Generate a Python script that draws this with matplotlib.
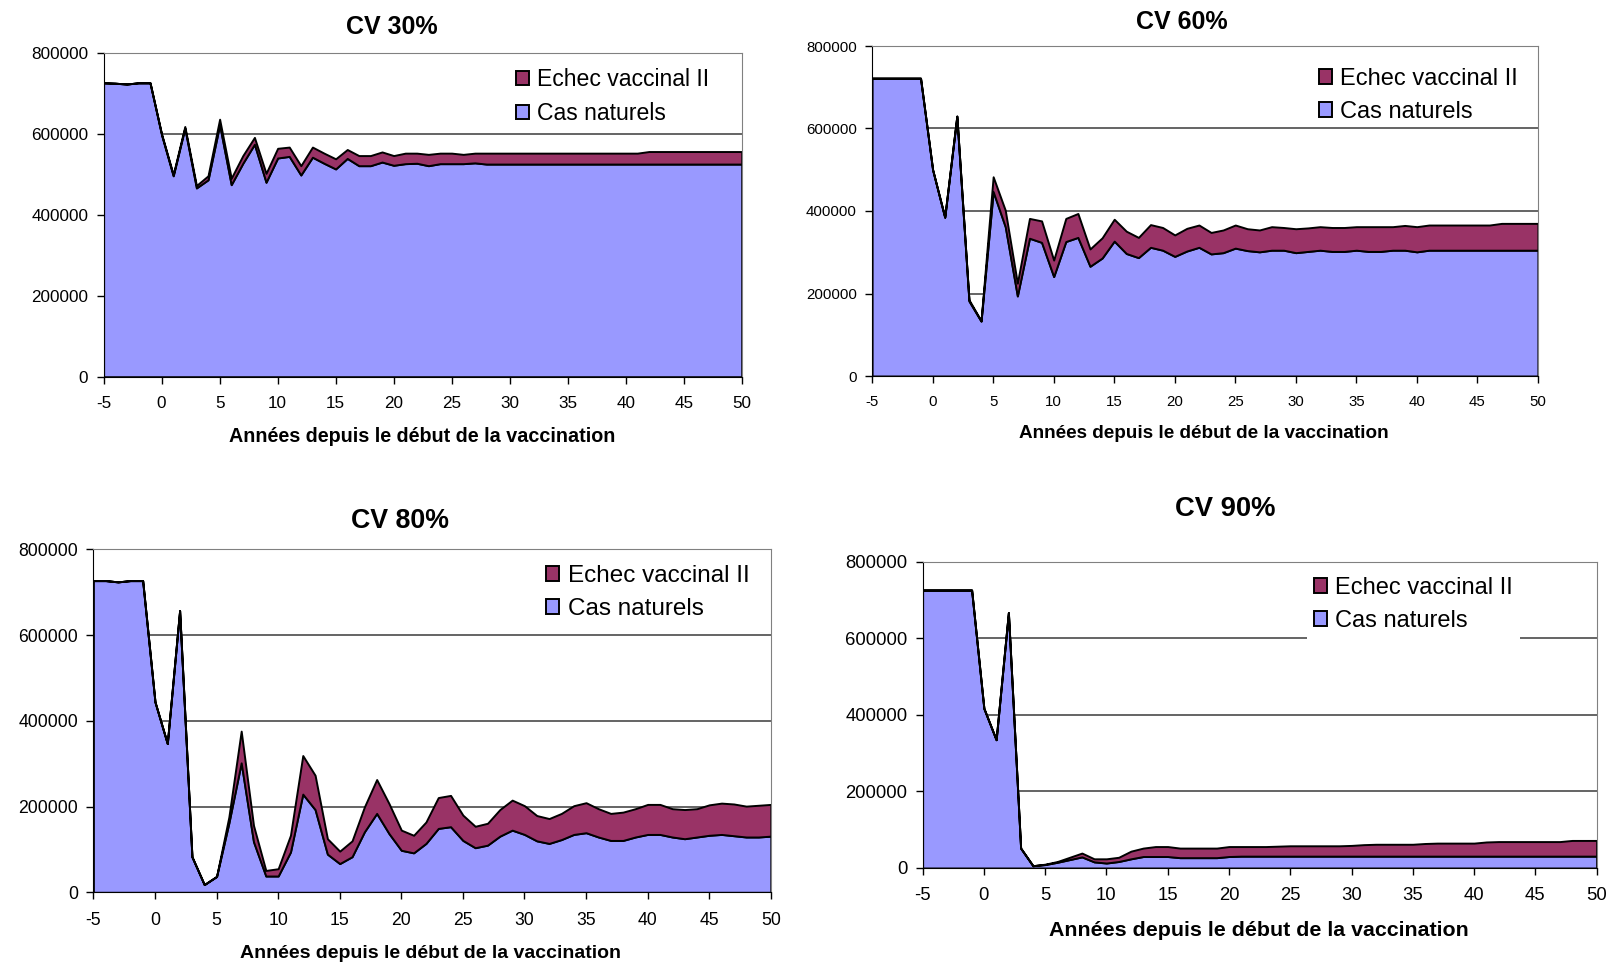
import numpy as np
import matplotlib.pyplot as plt

plt.rcParams['font.family'] = ['Liberation Sans', 'DejaVu Sans']

# années depuis le début de la vaccination
annees = np.arange(-5, 51)

# CV 30%
cas_30 = [727000, 726000, 724000, 727000, 727000, 598000, 497000, 615000, 467000, 487000,
          623000, 475000, 528000, 575000, 481000, 541000, 545000, 499000, 543000, 528000,
          514000, 540000, 522000, 522000, 531000, 523000, 527000, 528000, 522000, 527000,
          527000, 527000, 529000, 526000, 526000, 526000, 526000, 526000, 526000, 526000,
          526000, 526000, 526000, 526000, 526000, 526000, 526000, 526000, 526000, 526000,
          526000, 526000, 526000, 526000, 526000, 526000]
echec_30 = [0, 0, 0, 0, 0, 2000, 3000, 4000, 6000, 10000,
            14000, 16000, 19000, 17000, 22000, 24000, 23000, 23000, 25000, 25000,
            25000, 22000, 25000, 25000, 25000, 24000, 26000, 25000, 28000, 26000,
            26000, 23000, 24000, 27000, 27000, 27000, 27000, 27000, 27000, 27000,
            27000, 27000, 27000, 27000, 27000, 27000, 27000, 31000, 31000, 31000,
            31000, 31000, 31000, 31000, 31000, 31000]

# CV 60%
cas_60 = [722000, 722000, 722000, 722000, 722000, 500000, 385000, 630000, 182000, 133000,
          447000, 362000, 194000, 334000, 324000, 241000, 326000, 336000, 266000, 286000,
          327000, 297000, 287000, 312000, 305000, 290000, 303000, 312000, 296000, 299000,
          310000, 304000, 301000, 305000, 305000, 299000, 302000, 305000, 302000, 302000,
          305000, 302000, 302000, 305000, 305000, 301000, 305000, 305000, 305000, 305000,
          305000, 305000, 305000, 305000, 305000, 305000]
echec_60 = [0, 0, 0, 0, 0, 0, 0, 0, 3000, 1000,
            36000, 40000, 31000, 48000, 52000, 40000, 56000, 58000, 42000, 49000,
            53000, 54000, 49000, 55000, 55000, 52000, 55000, 54000, 52000, 55000,
            56000, 53000, 53000, 57000, 55000, 58000, 57000, 57000, 58000, 58000,
            57000, 60000, 60000, 57000, 60000, 61000, 61000, 61000, 61000, 61000,
            61000, 61000, 65000, 65000, 65000, 65000]

# CV 80%
cas_80 = [727000, 727000, 724000, 727000, 727000, 444000, 347000, 657000, 83000, 18000,
          37000, 162000, 302000, 118000, 38000, 38000, 94000, 229000, 193000, 89000,
          67000, 83000, 141000, 184000, 137000, 98000, 92000, 114000, 149000, 153000,
          121000, 104000, 110000, 131000, 145000, 135000, 120000, 114000, 123000, 135000,
          139000, 129000, 121000, 121000, 129000, 135000, 135000, 129000, 125000, 129000,
          133000, 135000, 132000, 129000, 129000, 131000]
echec_80 = [0, 0, 0, 0, 0, 0, 0, 0, 0, 0,
            0, 14000, 74000, 38000, 13000, 17000, 39000, 90000, 80000, 36000,
            29000, 37000, 58000, 79000, 70000, 47000, 41000, 50000, 72000, 73000,
            59000, 50000, 51000, 62000, 70000, 67000, 59000, 58000, 61000, 67000,
            70000, 66000, 63000, 66000, 66000, 70000, 70000, 66000, 68000, 66000,
            71000, 73000, 74000, 72000, 74000, 74000]

# CV 90%
cas_90 = [726000, 726000, 726000, 726000, 726000, 417000, 335000, 667000, 52000, 6000,
          9000, 15000, 22000, 29000, 16000, 13000, 17000, 24000, 30000, 30000,
          30000, 27000, 27000, 27000, 27000, 30000, 31000, 31000, 31000, 31000,
          31000, 31000, 31000, 31000, 31000, 31000, 31000, 31000, 31000, 31000,
          31000, 31000, 31000, 31000, 31000, 31000, 31000, 31000, 31000, 31000,
          31000, 31000, 31000, 31000, 31000, 31000]
echec_90 = [0, 0, 0, 0, 0, 0, 0, 0, 0, 0,
            1000, 2000, 6000, 10000, 8000, 11000, 11000, 20000, 22000, 26000,
            26000, 25000, 25000, 25000, 25000, 26000, 25000, 25000, 25000, 26000,
            27000, 27000, 27000, 27000, 27000, 28000, 30000, 31000, 31000, 31000,
            31000, 33000, 34000, 34000, 34000, 34000, 37000, 38000, 38000, 38000,
            38000, 38000, 38000, 41000, 41000, 41000]

titres = ['CV 30%', 'CV 60%', 'CV 80%', 'CV 90%']
series = [(cas_30, echec_30), (cas_60, echec_60), (cas_80, echec_80), (cas_90, echec_90)]
yticks = [0, 200000, 400000, 600000, 800000]
xticks = list(range(-5, 51, 5))
noms = ['Cas naturels', 'Echec vaccinal II']
couleurs = ['#9999FF', '#993366']
xlabel = 'Années depuis le début de la vaccination'

W, H = 1608, 964
# mise en page en pixels : cadre (gauche, haut, droite, bas), titre, label x, légende, tailles
layout = [
    dict(box=(103.6, 53.3, 741.7, 376.7), title=(392, 27), title_fs=18,
         xlab=(422, 436), xlab_fs=14.2, tick_fs=12.3, leg=(0.635, 0.976), leg_fs=16.6,
         leg_bg='none'),
    dict(box=(872.1, 46, 1537.9, 376), title=(1182, 22), title_fs=18,
         xlab=(1204, 434), xlab_fs=13.6, tick_fs=10.8, leg=(0.660, 0.955), leg_fs=17,
         leg_bg='none'),
    dict(box=(93.4, 549.3, 770.8, 892.3), title=(400, 521), title_fs=19.3,
         xlab=(431, 953), xlab_fs=14, tick_fs=12.7, leg=(0.657, 0.976), leg_fs=17.5,
         leg_bg='none'),
    dict(box=(922.6, 561.7, 1596.6, 868), title=(1225, 509), title_fs=19.7,
         xlab=(1259, 931), xlab_fs=15.4, tick_fs=13.3, leg=(0.570, 0.974), leg_fs=17,
         leg_bg='white'),
]

fig = plt.figure(figsize=(W / 100, H / 100), dpi=100)

for titre, (cas, echec), lay in zip(titres, series, layout):
    l, t, r, b = lay['box']
    ax = fig.add_axes([l / W, 1 - b / H, (r - l) / W, (b - t) / H])
    ax.stackplot(annees, cas, echec, colors=couleurs, labels=noms,
                 edgecolor='black', linewidth=1.4)
    ax.set_xlim(-5, 50)
    ax.set_ylim(0, 800000)
    ax.set_xticks(xticks)
    ax.set_xticklabels([str(v) for v in xticks])
    ax.set_yticks(yticks)
    ax.set_yticklabels([str(v) for v in yticks])
    ax.set_axisbelow(True)
    ax.yaxis.grid(True, color='#3a3a3a', linewidth=1.1)
    ax.tick_params(direction='out', length=5, width=1, labelsize=lay['tick_fs'], colors='black')
    ax.tick_params(axis='x', pad=9)
    ax.tick_params(axis='y', pad=6)
    for s in ['left', 'bottom']:
        ax.spines[s].set_color('black')
    for s in ['top', 'right']:
        ax.spines[s].set_color('#808080')

    h, lb = ax.get_legend_handles_labels()
    ax.legend(h[::-1], lb[::-1], loc='upper left', bbox_to_anchor=lay['leg'],
              frameon=True, fancybox=False, edgecolor='none', facecolor=lay['leg_bg'],
              framealpha=1, fontsize=lay['leg_fs'], handlelength=0.56, handleheight=0.56,
              handletextpad=0.35, borderpad=0.3, labelspacing=0.47, borderaxespad=0)

    fig.text(lay['title'][0] / W, 1 - lay['title'][1] / H, titre, ha='center', va='center',
             fontsize=lay['title_fs'], fontweight='bold')
    fig.text(lay['xlab'][0] / W, 1 - lay['xlab'][1] / H, xlabel, ha='center', va='center',
             fontsize=lay['xlab_fs'], fontweight='bold')

fig.savefig('out.png', dpi=100, facecolor='white')
